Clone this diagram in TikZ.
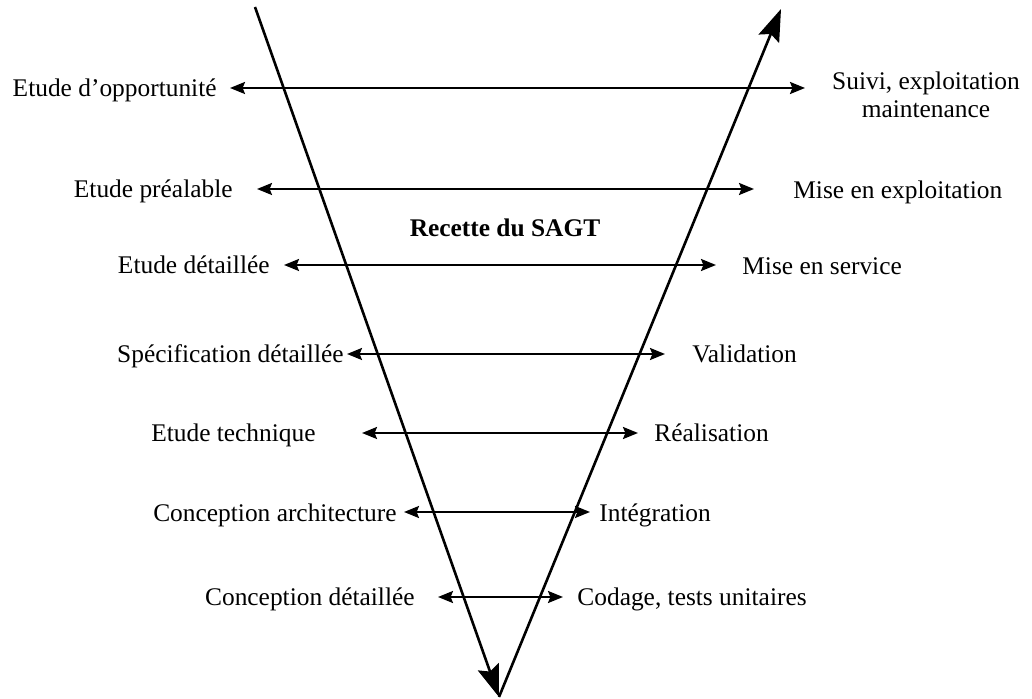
\documentclass[tikz,border=0pt]{standalone}
\usepackage{fontspec}
\setmainfont{Liberation Serif}
\usetikzlibrary{arrows.meta}
\tikzset{
    stage/.style={
        font=\fontsize{12.7pt}{14pt}\selectfont,
        inner sep=0pt,
        text=black
    },
    milestone/.style={
        stage,
        font=\fontsize{12.7pt}{14pt}\selectfont\bfseries
    },
    exchange/.style={
        <->,
        >={Stealth[length=7.5pt,width=6pt,inset=1.2pt]},
        line width=1.1pt
    },
    branch/.style={
        ->,
        >={Stealth[length=16pt,width=11pt,inset=2.5pt]},
        line width=1.3pt
    }
}

\begin{document}
\begin{tikzpicture}[x=0.5pt, y=-0.5pt]
\useasboundingbox (0,0) rectangle (1032,699);

% the V: descending then ascending branch
\coordinate (vleft) at (255,7);
\coordinate (vbottom) at (499,697);
\coordinate (vright) at (781,9);
\draw[branch] (vleft) -- (vbottom);
\draw[branch] (vbottom) -- (vright);

% horizontal links between the two branches
\foreach \i/\y/\xl/\xr in {
    1/88/230/805,
    2/189/257/754,
    3/265/284/716,
    4/354/347/665,
    5/433/362/638,
    6/512/404/590,
    7/597/438/563
} {
    \coordinate (lend\i) at (\xl,\y);
    \coordinate (rend\i) at (\xr,\y);
    \draw[exchange] (lend\i) -- (rend\i);
}

% left side
\node[stage, anchor=base east] (opportunite) at (217,97) {Etude d’opportunité};
\node[stage, anchor=base east] (prealable) at (233,198) {Etude préalable};
\node[stage, anchor=base east] (detaillee) at (270,274) {Etude détaillée};
\node[stage, anchor=base east] (specification) at (344,363) {Spécification détaillée};
\node[stage, anchor=base east] (technique) at (316,442) {Etude technique};
\node[stage, anchor=base east] (architecture) at (397,521) {Conception architecture};
\node[stage, anchor=base east] (conception) at (415,605) {Conception détaillée};

% right side
\node[stage, anchor=north, align=center] (suivi) at (926,71) {Suivi, exploitation\\maintenance};
\node[stage, anchor=base west] (exploitation) at (793,199) {Mise en exploitation};
\node[stage, anchor=base west] (service) at (742,275) {Mise en service};
\node[stage, anchor=base west] (validation) at (692,363) {Validation};
\node[stage, anchor=base west] (realisation) at (654,442) {Réalisation};
\node[stage, anchor=base west] (integration) at (599,521) {Intégration};
\node[stage, anchor=base west] (codage) at (577,605) {Codage, tests unitaires};

\node[milestone, anchor=base] (recette) at (505,237) {Recette du SAGT};

\end{tikzpicture}
\end{document}
